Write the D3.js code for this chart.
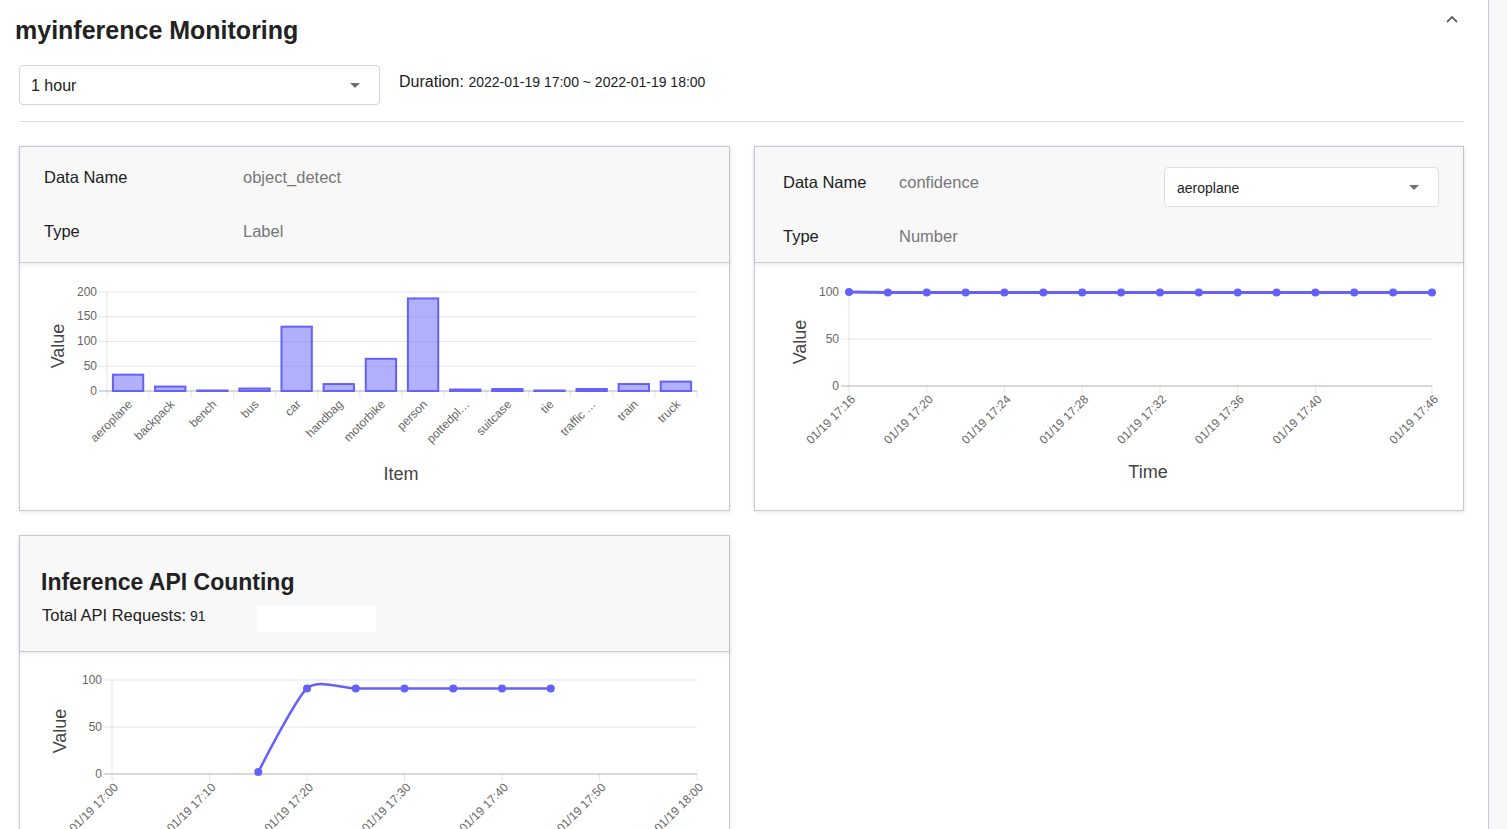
<!DOCTYPE html>
<html>
<head>
<meta charset="utf-8">
<script src="https://cdn.jsdelivr.net/npm/d3@7"></script>
<style>
  body { margin: 0; width: 1507px; height: 829px; overflow: hidden; background: #fff;
         font-family: "Liberation Sans", Arial, sans-serif; color: #212121; position: relative; }
  .abs { position: absolute; }
  .card { position: absolute; background: #fff; border: 1px solid #c6c9d6;
          box-shadow: 0 1px 4px rgba(0,0,0,0.12); box-sizing: border-box; }
  .head { position: absolute; left: 0; top: 0; right: 0; background: #f8f8f9;
          border-bottom: 1px solid #c6c9d6; box-shadow: 0 2px 4px rgba(0,0,0,0.08); }
  .lbl { position: absolute; font-size: 16.5px; color: #212121; }
  .val { position: absolute; font-size: 16.5px; color: #777; }
  .select { position: absolute; background: #fff; border: 1px solid #d4d4d8; border-radius: 4px; box-sizing: border-box; }
  .caret { position: absolute; width: 0; height: 0; border-left: 5px solid transparent;
           border-right: 5px solid transparent; border-top: 5px solid #707070; }
  svg#charts { position: absolute; left: 0; top: 0; pointer-events: none; }
</style>
</head>
<body>
<div class="abs" style="left:15px;top:16px;font-size:25px;font-weight:bold;color:#222">myinference Monitoring</div>
<svg class="abs" style="left:1445px;top:14px" width="14" height="10"><polyline points="2,8 7,3 12,8" fill="none" stroke="#666" stroke-width="1.8"/></svg>
<div class="abs" style="left:1488px;top:0;width:1px;height:829px;background:#c3c6d6"></div>
<div class="abs" style="left:1489px;top:0;width:18px;height:829px;background:#f7f7f7"></div>

<div class="select" style="left:19px;top:65px;width:361px;height:40px">
  <div class="abs" style="left:11px;top:11px;font-size:16px">1 hour</div>
  <div class="caret" style="left:330px;top:17px"></div>
</div>
<div class="abs" style="left:399px;top:73px;font-size:16px">Duration: <span style="font-size:14px">2022-01-19 17:00 ~ 2022-01-19 18:00</span></div>
<div class="abs" style="left:19px;top:121px;width:1445px;height:1px;background:#dcdcdc"></div>

<div class="card" style="left:19px;top:146px;width:711px;height:365px">
  <div class="head" style="height:115px">
    <div class="lbl" style="left:24px;top:21px">Data Name</div>
    <div class="val" style="left:223px;top:21px">object_detect</div>
    <div class="lbl" style="left:24px;top:75px">Type</div>
    <div class="val" style="left:223px;top:75px">Label</div>
  </div>
</div>

<div class="card" style="left:754px;top:146px;width:710px;height:365px">
  <div class="head" style="height:115px">
    <div class="lbl" style="left:28px;top:26px">Data Name</div>
    <div class="val" style="left:144px;top:26px">confidence</div>
    <div class="lbl" style="left:28px;top:80px">Type</div>
    <div class="val" style="left:144px;top:80px">Number</div>
    <div class="select" style="left:409px;top:20px;width:275px;height:40px;border-color:#dedee2">
      <div class="abs" style="left:12px;top:12px;font-size:14px;color:#222">aeroplane</div>
      <div class="caret" style="left:244px;top:17px"></div>
    </div>
  </div>
</div>

<div class="card" style="left:19px;top:535px;width:711px;height:330px">
  <div class="head" style="height:115px">
    <div class="abs" style="left:21px;top:33px;font-size:23px;font-weight:bold;color:#222">Inference API Counting</div>
    <div class="lbl" style="left:22px;top:70px">Total API Requests:<span style="font-size:14px"> 91</span></div>
    <div class="abs" style="left:237px;top:69px;width:119px;height:27px;background:#fff"></div>
  </div>
</div>

<svg id="charts" width="1507" height="829"></svg>

<script>
// ---- data ----
const categories = ["aeroplane", "backpack", "bench", "bus", "car", "handbag", "motorbike",
  "person", "pottedplant", "suitcase", "tie", "traffic light", "train", "truck"];
const counts = [33, 9, 1, 5, 130, 14, 65, 187, 3, 4, 1, 4, 14, 19];
const countTicks = [0, 50, 100, 150, 200];

const confDate = "01/19";
const confTimes = ["17:16", "17:18", "17:20", "17:22", "17:24", "17:26", "17:28", "17:30",
  "17:32", "17:34", "17:36", "17:38", "17:40", "17:42", "17:44", "17:46"];
const confValues = [100, 99.5, 99.5, 99.5, 99.5, 99.5, 99.5, 99.5,
  99.5, 99.5, 99.5, 99.5, 99.5, 99.5, 99.5, 99.5];
const confShown = ["17:16", "17:20", "17:24", "17:28", "17:32", "17:36", "17:40", "17:46"];

const apiDay = "2022-01-19";
const apiRange = ["17:00", "18:00"];
const apiTimes = ["17:15", "17:20", "17:25", "17:30", "17:35", "17:40", "17:45"];
const apiValues = [2, 91, 91, 91, 91, 91, 91];
const pctTicks = [0, 50, 100];

const purple = "#6461fb";
const svg = d3.select("#charts");
const tickFont = "12px 'Liberation Sans', Arial, sans-serif";
const gridColor = "rgba(0,0,0,0.1)";

function yAxisGrid(g, y, ticks, x0, x1) {
  ticks.forEach(t => {
    g.append("line")
      .attr("x1", x0 - 8).attr("x2", x1)
      .attr("y1", y(t)).attr("y2", y(t))
      .attr("stroke", t === 0 ? "rgba(0,0,0,0.3)" : gridColor);
    g.append("text")
      .attr("x", x0 - 10).attr("y", y(t)).attr("dy", "0.3em")
      .attr("text-anchor", "end")
      .style("font", tickFont).attr("fill", "#666")
      .text(t);
  });
}

// y axis line plus short tick marks under the x axis
function xTicks(g, xs, top, bottom) {
  xs.forEach((px, i) => {
    g.append("line").attr("x1", px).attr("x2", px)
      .attr("y1", i === 0 ? top : bottom).attr("y2", bottom + 7)
      .attr("stroke", gridColor);
  });
}

function axisTitle(g, text, x, y, rotate) {
  g.append("text")
    .attr("transform", "translate(" + x + "," + y + ")" + (rotate ? "rotate(-90)" : ""))
    .attr("text-anchor", "middle")
    .style("font", "18px 'Liberation Sans', Arial, sans-serif")
    .attr("fill", "#444")
    .text(text);
}

function rotatedLabel(g, x, y, text) {
  g.append("text")
    .attr("transform", "translate(" + (x + 4) + "," + y + ")rotate(-45)")
    .attr("text-anchor", "end").attr("dy", "0.35em")
    .style("font", tickFont).attr("fill", "#666")
    .text(text);
}

// ---- bar chart ----
(function () {
  const g = svg.append("g");
  const x = d3.scaleBand().domain(categories).range([107, 697]).paddingInner(0.28).paddingOuter(0.14);
  const y = d3.scaleLinear().domain([0, 200]).range([391, 292]);
  const step = x.step();

  const bounds = categories.map(c => x(c) - x.paddingOuter() * step).concat([697]);
  xTicks(g, bounds, 292, 391);
  yAxisGrid(g, y, countTicks, 107, 697);

  g.selectAll(".bar").data(categories).enter().append("rect")
    .attr("x", d => x(d))
    .attr("y", (d, i) => y(counts[i]))
    .attr("width", x.bandwidth())
    .attr("height", (d, i) => y(0) - y(counts[i]))
    .attr("fill", "rgba(100,97,251,0.5)")
    .attr("stroke", purple).attr("stroke-width", 2);

  const short = s => s.length > 9 ? s.slice(0, 8) + "…" : s;
  categories.forEach(c => rotatedLabel(g, x(c) + x.bandwidth() / 2 - 2, 402, short(c)));

  axisTitle(g, "Value", 64, 346, true);
  axisTitle(g, "Item", 401, 480, false);
})();

// ---- confidence line ----
(function () {
  const g = svg.append("g");
  const x = d3.scalePoint().domain(confTimes).range([849, 1432]);
  const y = d3.scaleLinear().domain([0, 100]).range([386, 292]);

  xTicks(g, confShown.map(t => x(t)), 292, 386);
  yAxisGrid(g, y, pctTicks, 849, 1432);

  const line = d3.line().x((d, i) => x(confTimes[i])).y(d => y(d));
  g.append("path").datum(confValues).attr("d", line)
    .attr("fill", "none").attr("stroke", purple).attr("stroke-width", 3);
  g.selectAll(".pt").data(confValues).enter().append("circle")
    .attr("cx", (d, i) => x(confTimes[i])).attr("cy", d => y(d)).attr("r", 4)
    .attr("fill", purple);

  confShown.forEach(t => rotatedLabel(g, x(t), 397, confDate + " " + t));

  axisTitle(g, "Value", 806, 342, true);
  axisTitle(g, "Time", 1148, 478, false);
})();

// ---- api counting ----
(function () {
  const g = svg.append("g");
  const parse = d3.timeParse("%Y-%m-%d %H:%M");
  const x = d3.scaleTime().domain(apiRange.map(t => parse(apiDay + " " + t))).range([112, 697]);
  const y = d3.scaleLinear().domain([0, 100]).range([774, 680]);
  const ticks = x.ticks(d3.timeMinute.every(10));
  const fmt = d3.timeFormat("%m/%d %H:%M");

  xTicks(g, ticks.map(t => x(t)), 680, 774);
  yAxisGrid(g, y, pctTicks, 112, 697);

  const pts = apiTimes.map((t, i) => [x(parse(apiDay + " " + t)), y(apiValues[i])]);
  g.append("path").datum(pts).attr("d", d3.line().curve(d3.curveCardinal.tension(0.3)))
    .attr("fill", "none").attr("stroke", purple).attr("stroke-width", 2.5);
  g.selectAll(".pt").data(pts).enter().append("circle")
    .attr("cx", d => d[0]).attr("cy", d => d[1]).attr("r", 4).attr("fill", purple);

  ticks.forEach(t => rotatedLabel(g, x(t), 785, fmt(t)));

  axisTitle(g, "Value", 66, 731, true);
})();
</script>
</body>
</html>
